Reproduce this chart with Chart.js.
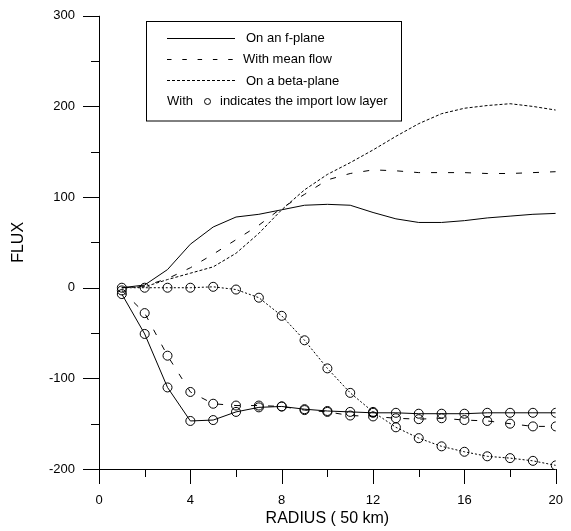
<!DOCTYPE html>
<html>
<head>
<meta charset="utf-8">
<script src="https://cdn.jsdelivr.net/npm/chart.js@4"></script>
<style>
  html, body { margin: 0; padding: 0; background: #fff; }
</style>
</head>
<body>
<canvas id="flux-chart" width="571" height="531"></canvas>
<script>
// radius in units of 50 km
const radius = [1, 2, 3, 4, 5, 6, 7, 8, 9, 10, 11, 12, 13, 14, 15, 16, 17, 18, 19, 20];

// upper layer
const fPlane   = [0, 3, 20, 48, 67, 78, 81, 86, 91, 92, 91, 83, 76, 72, 72, 74, 77, 79, 81, 82];
const meanFlow = [0, 2, 10, 22, 37, 53, 69, 88, 103, 119, 126, 130, 129, 127, 127, 127, 126, 126, 127, 128];
const betaPlane = [0, 1, 9, 16, 23, 38, 60, 86, 108, 125, 138, 152, 167, 181, 192, 198, 201, 203, 200, 196];

// low layer (drawn with circles)
const fPlaneLow   = [-7, -51, -110, -147, -146, -137, -132, -131, -134, -136, -137, -138, -138, -139, -139, -139, -138, -138, -138, -138];
const meanFlowLow = [-3, -28, -75, -115, -128, -130, -130, -131, -135, -137, -141, -142, -144, -145, -144, -146, -147, -150, -153, -153];
const betaPlaneLow = [0, 0, 0, 0, 1, -2, -11, -31, -58, -89, -116, -137, -154, -166, -175, -181, -186, -188, -191, -196];

const legendLabels = ['On an f-plane', 'With mean flow', 'On a beta-plane'];
const legendNote = ['With', 'indicates the import low layer'];

const FONT = 'Arial, "Liberation Sans", sans-serif';
const DASH = [6, 11];
const DOT = [3, 2];

function pts(ys) {
  return radius.map((x, i) => ({x: x, y: ys[i]}));
}

function line(data, dash, circles) {
  return {
    data: pts(data),
    borderColor: '#000',
    borderWidth: 1,
    borderDash: dash,
    tension: 0,
    fill: false,
    pointRadius: circles ? 4.5 : 0,
    pointStyle: 'circle',
    pointBorderColor: '#000',
    pointBorderWidth: 1,
    pointBackgroundColor: 'rgba(0,0,0,0)',
  };
}

// axis lines and tick marks (major long, minor short)
const axesPlugin = {
  id: 'axesTicks',
  afterDraw(chart) {
    const ctx = chart.ctx;
    const a = chart.chartArea;
    const xs = chart.scales.x, ys = chart.scales.y;
    ctx.save();
    ctx.strokeStyle = '#000';
    ctx.lineWidth = 1;
    ctx.beginPath();
    ctx.moveTo(a.left + 0.5, a.top);
    ctx.lineTo(a.left + 0.5, a.bottom);
    ctx.moveTo(a.left, a.bottom + 0.5);
    ctx.lineTo(a.right, a.bottom + 0.5);
    for (let v = -200; v <= 300; v += 50) {
      const py = Math.round(ys.getPixelForValue(v)) + 0.5;
      const len = v % 100 === 0 ? 16 : 8;
      ctx.moveTo(a.left - len, py);
      ctx.lineTo(a.left, py);
    }
    for (let v = 0; v <= 20; v += 2) {
      const px = Math.round(xs.getPixelForValue(v)) + 0.5;
      const len = v % 4 === 0 ? 15 : 8;
      ctx.moveTo(px, a.bottom);
      ctx.lineTo(px, a.bottom + len);
    }
    ctx.stroke();
    ctx.restore();
  }
};

// boxed legend
const legendPlugin = {
  id: 'boxLegend',
  afterDraw(chart) {
    const ctx = chart.ctx;
    ctx.save();
    ctx.strokeStyle = '#000';
    ctx.lineWidth = 1;
    ctx.strokeRect(146.5, 21.5, 255, 99.5);
    const rows = [37.5, 58.5, 80];
    const dashes = [[], [4.5, 10.8], DOT];
    const textX = [246, 243, 246];
    ctx.font = '13px ' + FONT;
    ctx.fillStyle = '#000';
    ctx.textBaseline = 'middle';
    rows.forEach((y, i) => {
      ctx.setLineDash(dashes[i]);
      ctx.beginPath();
      ctx.moveTo(167, Math.round(y) + 0.5);
      ctx.lineTo(235, Math.round(y) + 0.5);
      ctx.stroke();
      ctx.fillText(legendLabels[i], textX[i], y + 1);
    });
    ctx.setLineDash([]);
    const y = 101.5;
    ctx.fillText(legendNote[0], 167, y);
    ctx.beginPath();
    ctx.arc(207.5, y, 3, 0, Math.PI * 2);
    ctx.stroke();
    ctx.fillText(legendNote[1], 220, y);
    ctx.restore();
  }
};

const ctx = document.getElementById('flux-chart').getContext('2d');
new Chart(ctx, {
  type: 'line',
  data: {
    datasets: [
      line(fPlane, [], false),
      line(meanFlow, DASH, false),
      line(betaPlane, DOT, false),
      line(fPlaneLow, [], true),
      line(meanFlowLow, DASH, true),
      line(betaPlaneLow, [2, 2], true),
    ]
  },
  plugins: [axesPlugin, legendPlugin],
  options: {
    responsive: false,
    animation: false,
    layout: {padding: {top: 12, right: 9, bottom: 0, left: 0}},
    plugins: {
      legend: {display: false},
      tooltip: {enabled: false},
    },
    scales: {
      x: {
        type: 'linear',
        min: 0,
        max: 20,
        afterFit: s => { s.height = 62; },
        border: {display: false},
        grid: {display: true, drawOnChartArea: false, drawTicks: true, tickLength: 16, color: 'rgba(0,0,0,0)'},
        ticks: {stepSize: 4, color: '#000', font: {family: FONT, size: 13}, padding: 8, maxRotation: 0},
        title: {display: true, text: 'RADIUS ( 50 km)', color: '#000', font: {family: FONT, size: 16}, padding: {top: 0, bottom: 3}},
      },
      y: {
        type: 'linear',
        min: -200,
        max: 300,
        afterFit: s => { s.width = 99; },
        border: {display: false},
        grid: {display: true, drawOnChartArea: false, drawTicks: true, tickLength: 16, color: 'rgba(0,0,0,0)'},
        ticks: {stepSize: 100, color: '#000', font: {family: FONT, size: 13}, padding: 8},
        title: {display: true, text: 'FLUX', color: '#000', font: {family: FONT, size: 16}, padding: 9},
      }
    }
  }
});
</script>
</body>
</html>
